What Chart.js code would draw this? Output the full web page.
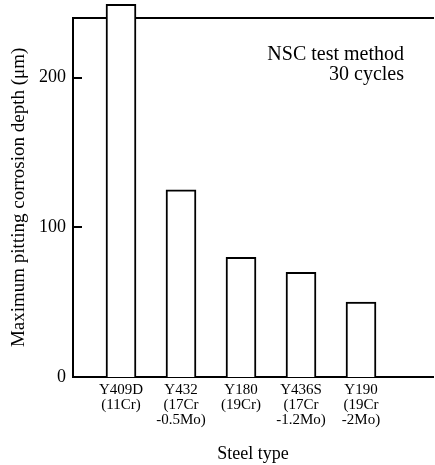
<!DOCTYPE html>
<html>
<head>
<meta charset="utf-8">
<script src="https://cdn.jsdelivr.net/npm/chart.js@4.4.1/dist/chart.umd.min.js"></script>
<style>
html,body{margin:0;padding:0;background:#fff;}
#wrap{width:435px;height:465px;position:relative;}
</style>
</head>
<body>
<div id="wrap"><canvas id="c" width="435" height="465"></canvas></div>
<script>
const steelTypes = ['Y409D', 'Y432', 'Y180', 'Y436S', 'Y190'];
const compositions = [['(11Cr)'], ['(17Cr', '-0.5Mo)'], ['(19Cr)'], ['(17Cr', '-1.2Mo)'], ['(19Cr', '-2Mo)']];
const pitDepth = [249, 125, 80, 70, 50];
const yTicks = [0, 100, 200];
const noteLines = ['NSC test method', '30 cycles'];
const yTitle = 'Maximum pitting corrosion depth (\u03bcm)';
const xTitle = 'Steel type';

const positions = steelTypes.map((_, i) => i + 1);
const serif = '"Liberation Serif", "DejaVu Serif", serif';

const extras = {
  id: 'extras',
  afterDraw(chart) {
    const ctx = chart.ctx, ca = chart.chartArea, y = chart.scales.y;
    ctx.save();
    ctx.strokeStyle = '#000';
    ctx.lineWidth = 2;
    yTicks.forEach(v => {
      const py = Math.round(y.getPixelForValue(v));
      ctx.beginPath();
      ctx.moveTo(ca.left, py);
      ctx.lineTo(ca.left + 9, py);
      ctx.stroke();
    });
    ctx.fillStyle = '#000';
    ctx.font = '20px ' + serif;
    ctx.textAlign = 'right';
    ctx.textBaseline = 'middle';
    noteLines.forEach((t, i) => ctx.fillText(t, ca.right - 29, ca.top + 37 + i * 20));
    ctx.restore();
  }
};

new Chart(document.getElementById('c'), {
  type: 'bar',
  data: {
    datasets: [{
      data: positions.map((p, i) => ({x: p, y: pitDepth[i]})),
      backgroundColor: '#fff',
      borderColor: '#000',
      borderWidth: 2,
      barThickness: 30,
      clip: false
    }]
  },
  options: {
    responsive: false,
    animation: false,
    devicePixelRatio: 1,
    layout: {padding: {top: 16, right: 2, left: 0, bottom: 0}},
    plugins: {legend: {display: false}, tooltip: {enabled: false}},
    scales: {
      x: {
        type: 'linear',
        offset: false,
        min: 0.2,
        max: 6.2,
        afterBuildTicks(scale) { scale.ticks = positions.map(v => ({value: v})); },
        afterFit(scale) { scale.height = 88; },
        grid: {display: false, drawTicks: false, offset: false},
        border: {display: true, color: '#000', width: 2},
        ticks: {
          autoSkip: false,
          maxRotation: 0,
          padding: 6,
          color: '#000',
          font: {family: serif, size: 15, lineHeight: 1.0},
          callback: (v) => [steelTypes[v - 1]].concat(compositions[v - 1])
        },
        title: {display: true, text: xTitle, color: '#000', font: {family: serif, size: 18}, padding: {top: 0, bottom: 0}}
      },
      xTop: {
        type: 'linear',
        position: 'top',
        offset: false,
        min: 0.2,
        max: 6.2,
        afterFit(scale) { scale.height = 0; },
        grid: {display: false, drawTicks: false},
        border: {display: true, color: '#000', width: 2},
        ticks: {display: false}
      },
      y: {
        min: 0,
        max: 240,
        afterBuildTicks(scale) { scale.ticks = yTicks.map(v => ({value: v})); },
        afterFit(scale) { scale.width = 73; },
        grid: {display: false, drawTicks: false},
        border: {display: true, color: '#000', width: 2},
        ticks: {padding: 7, color: '#000', font: {family: serif, size: 18}},
        title: {display: true, text: yTitle, color: '#000', font: {family: serif, size: 19}, padding: {top: 8, bottom: 0}}
      }
    }
  },
  plugins: [extras]
});
</script>
</body>
</html>
